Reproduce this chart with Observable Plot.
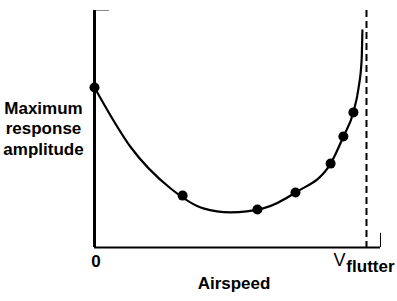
<!DOCTYPE html>
<html>
<head>
<meta charset="utf-8">
<script src="https://cdn.jsdelivr.net/npm/d3@7"></script>
<script src="https://cdn.jsdelivr.net/npm/@observablehq/plot@0.6"></script>
<style>
  html, body { margin: 0; padding: 0; background: #fff; }
  svg { display: block; }
</style>
</head>
<body>
<div id="chart"></div>
<script>
// Airspeed (fraction of V_flutter) and max response amplitude (relative)
const curveX = [0, 0.132, 0.279, 0.400, 0.500, 0.620, 0.739, 0.868, 0.915, 0.952, 0.971, 0.982, 0.985];
const curveY = [0.675, 0.425, 0.250, 0.165, 0.148, 0.165, 0.232, 0.354, 0.468, 0.572, 0.675, 0.789, 0.916];
const pointX = [0, 0.324, 0.599, 0.739, 0.868, 0.915, 0.952];
const pointY = [0.675, 0.219, 0.160, 0.232, 0.354, 0.468, 0.570];
const flutterX = [1];
const xLabel = "Airspeed";
const yLabel = "Maximum\nresponse\namplitude";
const zeroLabel = "0";
const vLabel = "V";
const vSub = "flutter";

const curve = curveX.map((x, i) => ({x, y: curveY[i]}));
const points = pointX.map((x, i) => ({x, y: pointY[i]}));

const font = "Liberation Sans, Arial, Helvetica, sans-serif";
const txt = {fontSize: 17, fontWeight: "bold", fill: "#000", lineAnchor: "bottom"};

const chart = Plot.plot({
  width: 397,
  height: 301,
  marginLeft: 94,
  marginRight: 17,
  marginTop: 10,
  marginBottom: 54,
  style: {fontFamily: font, background: "#fff", overflow: "visible"},
  x: {domain: [0, 1.0515], axis: null},
  y: {domain: [0, 1], axis: null},
  marks: [
    Plot.ruleY([1], {x1: 0, x2: 0.055, stroke: "#888", strokeWidth: 1}),
    Plot.ruleX([1.0515], {y1: 0, y2: 0.06, stroke: "#000", strokeWidth: 1}),
    Plot.ruleX(flutterX, {stroke: "#000", strokeWidth: 2, strokeDasharray: "7,4"}),
    Plot.ruleY([0], {stroke: "#000", strokeWidth: 2}),
    Plot.ruleX([0], {stroke: "#000", strokeWidth: 3}),
    Plot.line(curve, {x: "x", y: "y", curve: "monotone-x", stroke: "#000", strokeWidth: 2.2}),
    Plot.dot(points, {x: "x", y: "y", r: 5, fill: "#000", stroke: "none"}),
    Plot.text([zeroLabel], {...txt, x: 0.0055, y: -0.084, text: d => d, textAnchor: "middle"}),
    Plot.text([xLabel], {...txt, x: 0.513, y: -0.177, text: d => d, textAnchor: "middle"}),
    Plot.text([yLabel], {...txt, x: -0.1875, y: 0.392, text: d => d, textAnchor: "middle", lineHeight: 1.2}),
    Plot.text([vLabel], {...txt, x: 0.879, y: -0.080, text: d => d, textAnchor: "start", fontWeight: "normal", fontSize: 18}),
    Plot.text([vSub], {...txt, x: 0.926, y: -0.105, text: d => d, textAnchor: "start"})
  ]
});
document.getElementById("chart").appendChild(chart);
</script>
</body>
</html>
